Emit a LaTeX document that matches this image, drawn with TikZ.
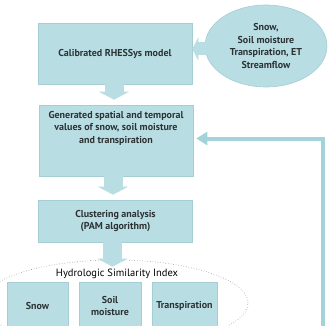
\documentclass[tikz,border=0pt]{standalone}
\usepackage{fontspec}
\setmainfont{PT Sans}
\usepackage{tikz}
\usetikzlibrary{calc}
\usetikzlibrary{positioning}
\usetikzlibrary{shapes}
\usetikzlibrary{arrows.meta}

\definecolor{boxfill}{RGB}{184,222,228}
\definecolor{boxline}{RGB}{165,205,212}
\definecolor{boxtext}{RGB}{45,50,52}

\tikzset{
	stage/.style = {draw=boxline, fill=boxfill, line width=0.6pt, minimum width=154pt, inner sep=0pt},
	boxlabel/.style = {text=boxtext, font=\bfseries\fontsize{10}{12.5}\selectfont, align=center, inner sep=0pt},
	small/.style = {draw=boxline, fill=boxfill, line width=0.6pt, minimum height=48pt, inner sep=0pt,
		text=boxtext, font=\bfseries\fontsize{10}{12.5}\selectfont, align=center},
	blockdown/.style = {boxfill, line width=19pt, -{Triangle[length=8pt, width=30pt]}},
	feed/.style = {boxfill!88!teal, line width=4pt, -{Triangle[length=11pt, width=13pt]}}
}

\begin{document}
\begin{tikzpicture}[x=1pt, y=-1pt]
		\useasboundingbox (0, 0) rectangle (329, 326);
		\clip (0, 0) rectangle (329, 326);

		\node[stage, minimum height=61pt, boxlabel] (calib) at (115, 53.5) {Calibrated RHESSys model};
		\node[stage, minimum height=71pt] (gen) at (116, 140.5) {};
		\node[boxlabel] (gentext) at (116, 128) {Generated spatial and temporal\\values of snow, soil moisture\\and transpiration};
		\node[stage, minimum height=42pt, boxlabel] (clust) at (115.5, 221) {Clustering analysis\\(PAM algorithm)};
		\node[draw=boxline, fill=boxfill, line width=0.6pt, ellipse, minimum width=122pt, minimum height=82pt,
			inner sep=0pt, boxlabel] (obs) at (266, 46) {Snow,\\Soil moisture\\Transpiration, ET\\Streamflow};

		\node[draw=gray!85, dotted, line width=0.6pt, ellipse, minimum width=266pt, minimum height=86pt] (group) at (115, 303) {};
		\node[font=\fontsize{10.5}{12}\selectfont, inner sep=0pt] (hsi) at (117, 274) {Hydrologic Similarity Index};
		\node[small, minimum width=61pt] (snow) at (37.5, 306) {Snow};
		\node[small, minimum width=62pt] (soil) at (110, 306) {Soil\\moisture};
		\node[small, minimum width=65pt] (transp) at (184.5, 306) {Transpiration};

		\coordinate (fbstart) at (323, 330);

		\path[draw, boxfill, line width=13pt, -{Triangle[length=6pt, width=23pt]}]
			([yshift=-3pt, xshift=3pt]obs.west) -- ([yshift=-3pt]obs.west -| calib.east);
		\path[draw, blockdown, shorten >=5pt] ([xshift=-1pt]calib.south) -- ([xshift=-2pt]gen.north);
		\path[draw, blockdown, shorten >=5pt] ([xshift=-3pt]gen.south) -- ([xshift=-3pt]gen.south |- clust.north);
		\path[draw, blockdown, shorten >=-7pt] ([xshift=-3pt]clust.south) -- ([xshift=-3pt]clust.south |- group.north);
		\path[draw, feed, shorten >=3pt] (fbstart) |- ([yshift=2pt]gen.east);
    \end{tikzpicture}
\end{document}
